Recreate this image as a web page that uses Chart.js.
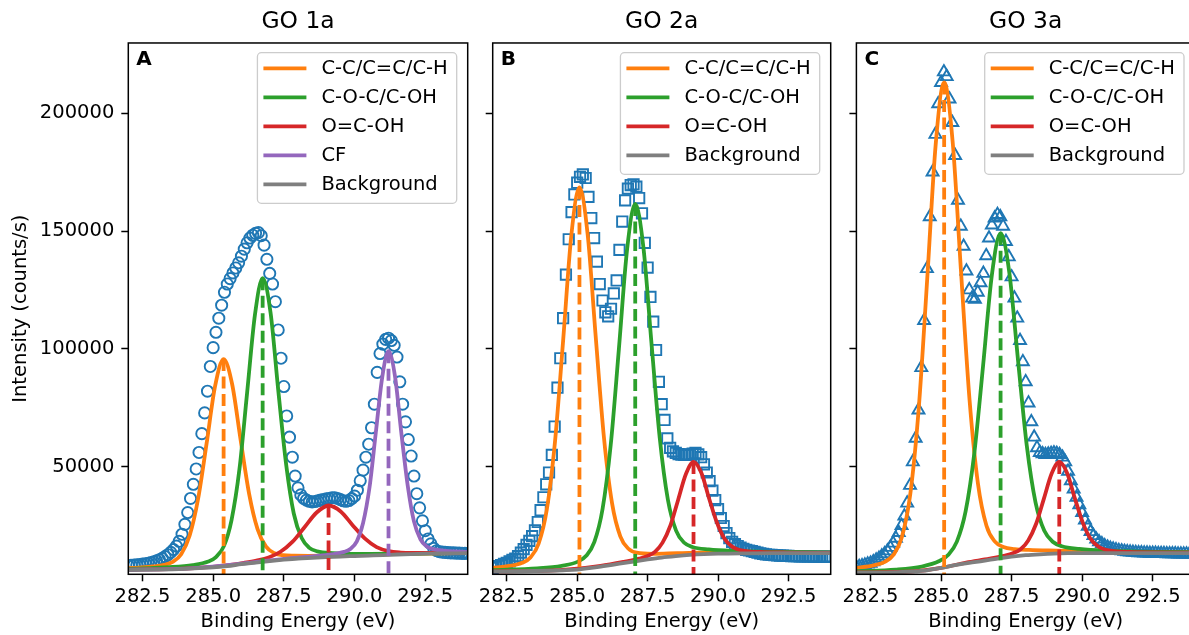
<!DOCTYPE html>
<html>
<head>
<meta charset="utf-8">
<title>C 1s fits GO 1a / 2a / 3a</title>
<script src="https://cdn.jsdelivr.net/npm/chart.js@4.4.1/dist/chart.umd.min.js"></script>
<style>
  html, body { margin: 0; padding: 0; background: #fff; overflow: hidden; width: 1189px; height: 635px; }
  canvas { position: absolute; top: 0; }
  #chartA { left: 0; }
  #chartB { left: 470px; }
  #chartC { left: 835px; }
</style>
</head>
<body>
<canvas id="chartA" width="480" height="635"></canvas>
<canvas id="chartB" width="375" height="635"></canvas>
<canvas id="chartC" width="375" height="635"></canvas>
<script>
// Binding energy grid of the measured points (eV)
const energy = [
  282.0, 282.1, 282.2, 282.3, 282.4, 282.5, 282.6, 282.7, 282.8, 282.9,
  283.0, 283.1, 283.2, 283.3, 283.4, 283.5, 283.6, 283.7, 283.8, 283.9,
  284.0, 284.1, 284.2, 284.3, 284.4, 284.5, 284.6, 284.7, 284.8, 284.9,
  285.0, 285.1, 285.2, 285.3, 285.4, 285.5, 285.6, 285.7, 285.8, 285.9,
  286.0, 286.1, 286.2, 286.3, 286.4, 286.5, 286.6, 286.7, 286.8, 286.9,
  287.0, 287.1, 287.2, 287.3, 287.4, 287.5, 287.6, 287.7, 287.8, 287.9,
  288.0, 288.1, 288.2, 288.3, 288.4, 288.5, 288.6, 288.7, 288.8, 288.9,
  289.0, 289.1, 289.2, 289.3, 289.4, 289.5, 289.6, 289.7, 289.8, 289.9,
  290.0, 290.1, 290.2, 290.3, 290.4, 290.5, 290.6, 290.7, 290.8, 290.9,
  291.0, 291.1, 291.2, 291.3, 291.4, 291.5, 291.6, 291.7, 291.8, 291.9,
  292.0, 292.1, 292.2, 292.3, 292.4, 292.5, 292.6, 292.7, 292.8, 292.9,
  293.0, 293.1, 293.2, 293.3, 293.4, 293.5, 293.6, 293.7, 293.8, 293.9,
  294.0
];

// Measured intensity (counts/s)
const countsA = [
  8000, 8100, 8200, 8300, 8400, 8600, 8800, 9000, 9300, 9600,
  10000, 10500, 11100, 11800, 12600, 13600, 14800, 16300, 18300, 21300,
  25500, 30500, 36500, 42500, 49000, 56000, 64000, 72800, 82000, 92500,
  100500, 107000, 113000, 118500, 124000, 127500, 129800, 132200, 134300, 136500,
  139300, 142300, 145000, 147000, 148200, 149000, 149300, 148000, 144000, 138000,
  132000, 127500, 120000, 108000, 96000, 84000, 71500, 62500, 54000, 46000,
  41000, 38000, 36500, 35800, 35300, 35000, 35200, 35500, 35800, 36000,
  36300, 36500, 36800, 36800, 36500, 36000, 35500, 35300, 35600, 36400,
  37500, 40000, 44000, 48500, 54000, 59500, 66500, 76500, 90000, 98000,
  102000, 104000, 104500, 103500, 101500, 96500, 86000, 76500, 69000, 61500,
  54500, 46000, 38500, 32500, 27000, 22800, 19300, 17200, 15300, 14300,
  13900, 13700, 13600, 13500, 13400, 13400, 13300, 13300, 13200, 13200,
  13200
];
const countsB = [
  7000, 7400, 7800, 8200, 8700, 9200, 9800, 10400, 11000, 12000,
  13500, 15000, 16800, 18500, 20500, 23000, 26500, 31500, 37000, 42500,
  47500, 55000, 67000, 83500, 96000, 113000, 131500, 146500, 158000, 165500,
  170500, 173000, 174000, 172500, 164500, 155500, 147000, 137000, 127500, 120500,
  115500, 113800, 117000, 123500, 129000, 142000, 154000, 163000, 168000, 169500,
  169800, 168800, 164000, 157500, 145000, 134500, 122000, 111500, 99500, 86000,
  76500, 69800, 62000, 58000, 56500, 55800, 55300, 55100, 55000, 55000,
  55200, 55500, 55800, 55200, 54000, 51000, 47500, 43800, 39800, 35800,
  32000, 28200, 24800, 21800, 19700, 18100, 17100, 16300, 15600, 15100,
  14700, 14400, 14100, 13800, 13500, 13200, 13000, 12800, 12600, 12500,
  12400, 12300, 12200, 12200, 12100, 12100, 12000, 12000, 12000, 11900,
  11900, 11900, 11900, 11900, 11800, 11800, 11800, 11800, 11800, 11800,
  11800
];
const countsC = [
  7300, 7600, 7900, 8200, 8600, 9000, 9600, 10300, 11100, 12000,
  13000, 14200, 15700, 17500, 19600, 22000, 25000, 29000, 34500, 42000,
  52000, 62000, 74000, 92000, 112000, 134000, 156000, 175000, 191000, 204000,
  213000, 217500, 215500, 206000, 196000, 182000, 163000, 152000, 143500, 133000,
  125000, 121500, 121000, 124000, 128000, 132000, 139500, 147000, 152500, 155500,
  157000, 156000, 152000, 145500, 139000, 130500, 121500, 113000, 103500, 94500,
  86000, 77000, 69000, 62500, 58000, 56000, 55400, 55100, 55300, 55600,
  55800, 55600, 55100, 54000, 52000, 48000, 44000, 40500, 37000, 33800,
  30500, 27300, 24600, 22400, 20700, 19200, 18100, 17200, 16400, 15800,
  15300, 15000, 14700, 14400, 14200, 14000, 13800, 13700, 13600, 13500,
  13400, 13400, 13300, 13300, 13200, 13200, 13200, 13100, 13100, 13100,
  13000, 13000, 13000, 13000, 12900, 12900, 12900, 12900, 12900, 12900,
  12900
];

// Fitted components (component + background), [eV, counts/s]
const ccFitA = [[282.0,6940],[282.37,7160],[282.87,7610],[283.27,8320],[283.57,9600],[283.87,12840],[284.17,20750],[284.47,36480],[284.77,59960],[285.07,84240],[285.37,95640],[285.67,85070],[285.97,61450],[286.27,38580],[286.57,23480],[286.87,16020],[287.17,13230],[287.47,12400],[287.87,12190],[288.37,12140],[289.37,12320],[291.37,12870],[294.0,13370]];
const cocFitA = [[282.0,6640],[283.45,7330],[284.28,8240],[284.83,9760],[285.1,11610],[285.38,16250],[285.65,27340],[285.93,48950],[286.2,81240],[286.48,114620],[286.75,130000],[287.03,115280],[287.3,82620],[287.58,51030],[287.85,30110],[288.13,19680],[288.4,15530],[288.68,14060],[289.23,13250],[290.05,12960],[294.0,13440]];
const coohFitA = [[282.0,6290],[283.98,6750],[285.26,7790],[286.11,9230],[286.53,10120],[286.96,11410],[287.38,13860],[287.81,18140],[288.23,24280],[288.66,30520],[289.08,33500],[289.51,30980],[289.93,25160],[290.36,19530],[290.78,15860],[291.21,14110],[291.63,13530],[292.06,13400],[292.91,13410],[294.0,13420]];
const cfFitA = [[282.0,6260],[284.0,6695],[286.0,8776],[287.5,10850],[288.5,11940],[289.18,12760],[289.63,13810],[289.85,15070],[290.08,18250],[290.3,26000],[290.53,41310],[290.75,64310],[290.98,88090],[291.2,99000],[291.43,88300],[291.65,64730],[291.88,41900],[292.1,26760],[292.33,19170],[292.55,16140],[292.78,15020],[293.23,14280],[294.0,13850]];
const bgA = [[282,6200],[283,6300],[284,6600],[284.5,6900],[285,7200],[285.5,7800],[286,8600],[286.5,9300],[287,9900],[287.5,10500],[288,11000],[288.5,11300],[289,11600],[289.5,11850],[290,12050],[290.5,12250],[291,12450],[291.5,12700],[292,12900],[292.5,13050],[293,13150],[294,13250]];

const ccFitB = [[282.0,7020],[282.47,7620],[283.05,9190],[283.34,11440],[283.63,17300],[283.92,31720],[284.21,60350],[284.5,103420],[284.79,148010],[285.08,168500],[285.37,148660],[285.66,104710],[285.95,62280],[286.24,34270],[286.53,20420],[286.82,15150],[287.11,13480],[287.69,12970],[288.56,13270],[290.0,13660],[294.0,13440]];
const cocFitB = [[282.0,6040],[283.58,6840],[284.45,7920],[285.03,9690],[285.32,12150],[285.61,18030],[285.9,31990],[286.19,59210],[286.48,99930],[286.77,142030],[287.06,161500],[287.35,143070],[287.64,101990],[287.93,62260],[288.22,35930],[288.51,22840],[288.8,17700],[289.09,15910],[289.67,14860],[290.54,14250],[294.0,13540]];
const coohFitB = [[282.0,5570],[284.0,5820],[285.83,7890],[286.66,9580],[287.21,10940],[287.48,11960],[287.76,13820],[288.03,17730],[288.31,25010],[288.58,35760],[288.86,46840],[289.13,52000],[289.41,47260],[289.68,36600],[289.96,26270],[290.23,19380],[290.51,15940],[290.78,14570],[291.06,14070],[291.61,13730],[292.43,13540],[294.0,13390]];
const bgB = [[282,5500],[283,5600],[284,5800],[284.5,6000],[285,6300],[285.5,7000],[286,7900],[286.5,8800],[287,9700],[287.5,10600],[288,11400],[288.5,12000],[289,12500],[289.5,12850],[290,13050],[291,13200],[292,13250],[294,13250]];

const ccFitC = [[282.0,7020],[282.61,8120],[283.01,9600],[283.31,12520],[283.61,20010],[283.91,38390],[284.21,74860],[284.51,129700],[284.81,186700],[285.11,213060],[285.41,188060],[285.71,132310],[286.01,78370],[286.31,42630],[286.61,24910],[286.91,18150],[287.21,15890],[287.61,15020],[288.11,14650],[289.11,14360],[291.11,13860],[294.0,13560]];
const cocFitC = [[282.0,5550],[283.39,6240],[284.32,7590],[284.94,9930],[285.25,12510],[285.56,18170],[285.87,31000],[286.18,55820],[286.49,92860],[286.8,131260],[287.11,149080],[287.42,132330],[287.73,94960],[288.04,58760],[288.35,34740],[288.66,22750],[288.97,17990],[289.28,16230],[289.9,15060],[290.83,14320],[294.0,13610]];
const coohFitC = [[282.0,5070],[284.0,5520],[285.0,7020],[285.89,9270],[286.72,10930],[287.27,12280],[287.54,13230],[287.82,14950],[288.09,18690],[288.37,25740],[288.64,36230],[288.92,47040],[289.19,52000],[289.47,47230],[289.74,36630],[290.02,26350],[290.29,19520],[290.57,16070],[290.84,14680],[291.12,14160],[291.67,13800],[292.49,13590],[294.0,13440]];
const bgC = [[282,5000],[283,5050],[284,5500],[284.5,6000],[285,7000],[285.5,8200],[286,9200],[286.5,10000],[287,11000],[287.5,11800],[288,12400],[288.5,12800],[289,13100],[289.5,13250],[290,13300],[294,13300]];

// Peak positions and heights (dashed markers)
const peaksA = [[285.37, 95640], [286.75, 130000], [289.08, 33500], [291.2, 99000]];
const peaksB = [[285.08, 168500], [287.06, 161500], [289.13, 52000]];
const peaksC = [[285.11, 213060], [287.11, 149080], [289.19, 52000]];

const componentLabels = ['C-C/C=C/C-H', 'C-O-C/C-OH', 'O=C-OH', 'CF'];
const panelTitles = ['GO 1a', 'GO 2a', 'GO 3a'];
const panelLetters = ['A', 'B', 'C'];
const xTicks = [282.5, 285.0, 287.5, 290.0, 292.5];
const yTicks = [50000, 100000, 150000, 200000];

const componentColors = ['#ff7f0e', '#2ca02c', '#d62728', '#9467bd'];
const dataColor = '#1f77b4';
const bgColor = '#7f7f7f';
const lineW = 3.8;

Chart.defaults.font.family = '"DejaVu Sans", sans-serif';
Chart.defaults.color = '#000';

const toXY = pts => pts.map(([x, y]) => ({ x: x, y: y }));

// Box around the axes, panel letter and the legend
const panelDecor = {
  id: 'panelDecor',
  afterDatasetsDraw(chart, args, opts) {
    const { ctx, chartArea: a } = chart;
    ctx.save();
    ctx.strokeStyle = '#000';
    ctx.lineWidth = 1.5;
    ctx.strokeRect(a.left, a.top, a.right - a.left, a.bottom - a.top);
    ctx.font = 'bold 20px "DejaVu Sans"';
    ctx.fillStyle = '#000';
    ctx.textBaseline = 'alphabetic';
    ctx.fillText(opts.letter, a.left + 8, a.top + 22);
    ctx.restore();
  },
  afterDraw(chart) {
    const { ctx, chartArea: a } = chart;
    const items = chart.data.datasets.filter(ds => ds.inLegend);
    ctx.save();
    ctx.font = '19.5px "DejaVu Sans"';
    const textW = Math.max(...items.map(it => ctx.measureText(it.label).width));
    const w = textW + 73, h = 29 * (items.length - 1) + 34.6;
    const x0 = a.right - 11 - w, y0 = a.top + 9.7, r = 4;
    ctx.beginPath();
    ctx.moveTo(x0 + r, y0);
    ctx.arcTo(x0 + w, y0, x0 + w, y0 + h, r);
    ctx.arcTo(x0 + w, y0 + h, x0, y0 + h, r);
    ctx.arcTo(x0, y0 + h, x0, y0, r);
    ctx.arcTo(x0, y0, x0 + w, y0, r);
    ctx.closePath();
    ctx.fillStyle = 'rgba(255,255,255,0.8)';
    ctx.fill();
    ctx.strokeStyle = '#cccccc';
    ctx.lineWidth = 1.3;
    ctx.stroke();
    items.forEach((it, i) => {
      const cy = y0 + 15.6 + 29 * i;
      ctx.beginPath();
      ctx.moveTo(x0 + 6, cy);
      ctx.lineTo(x0 + 49, cy);
      ctx.strokeStyle = it.borderColor;
      ctx.lineWidth = lineW;
      ctx.stroke();
      ctx.fillStyle = '#000';
      ctx.textBaseline = 'middle';
      ctx.fillText(it.label, x0 + 64, cy + 1);
    });
    ctx.restore();
  }
};

function makePanel(p) {
  const datasets = [];
  datasets.push({
    label: 'Data',
    data: energy.map((e, i) => ({ x: e, y: p.counts[i] })),
    showLine: false,
    pointStyle: p.marker,
    pointRadius: p.radius,
    pointBorderWidth: 1.9,
    pointBorderColor: dataColor,
    pointBackgroundColor: 'rgba(0,0,0,0)',
    borderColor: dataColor,
    backgroundColor: 'rgba(0,0,0,0)',
    order: 5
  });
  p.fits.forEach((fit, k) => {
    datasets.push({
      label: componentLabels[k],
      inLegend: true,
      data: toXY(fit),
      showLine: true,
      borderColor: componentColors[k],
      borderWidth: lineW,
      pointRadius: 0,
      cubicInterpolationMode: 'monotone',
      order: 4 - k * 0.1
    });
  });
  datasets.push({
    label: 'Background',
    inLegend: true,
    data: toXY(p.background),
    showLine: true,
    borderColor: bgColor,
    borderWidth: lineW,
    pointRadius: 0,
    cubicInterpolationMode: 'monotone',
    order: 2
  });
  p.peaks.forEach(([c, h], k) => {
    datasets.push({
      label: componentLabels[k] + ' centre',
      data: [{ x: c, y: h }, { x: c, y: 0 }],
      showLine: true,
      borderColor: componentColors[k],
      borderWidth: lineW,
      borderDash: [12, 5.5],
      pointRadius: 0,
      order: 1
    });
  });

  new Chart(document.getElementById(p.canvas), {
    type: 'scatter',
    data: { datasets: datasets },
    plugins: [panelDecor],
    options: {
      responsive: false,
      animation: false,
      devicePixelRatio: 1,
      layout: { padding: { left: 0, right: p.padRight, top: 0, bottom: 0 } },
      plugins: {
        legend: { display: false },
        tooltip: { enabled: false },
        title: {
          display: true, text: p.title, fullSize: false, color: '#000',
          font: { size: 23.4, weight: 'normal' },
          padding: { top: 8, bottom: 6.9 }
        },
        panelDecor: { letter: p.letter }
      },
      scales: {
        x: {
          type: 'linear', min: 282, max: 294,
          afterBuildTicks: s => { s.ticks = xTicks.map(v => ({ value: v })); },
          afterFit: s => { s.height = 60.7; },
          ticks: { callback: v => v.toFixed(1), color: '#000', font: { size: 19.5 }, padding: 4, maxRotation: 0, autoSkip: false },
          grid: { drawOnChartArea: false, drawTicks: true, tickLength: 7, tickWidth: 1.5, tickColor: '#000' },
          border: { display: false },
          title: { display: true, text: 'Binding Energy (eV)', color: '#000', font: { size: 19.5 }, padding: { top: 0, bottom: 1 } }
        },
        y: {
          type: 'linear', min: 4300, max: 229800,
          afterBuildTicks: s => { s.ticks = yTicks.map(v => ({ value: v })); },
          afterFit: s => { s.width = p.yWidth; },
          ticks: { display: p.yLabels, callback: v => String(v), color: '#000', font: { size: 19.5 }, padding: 7 },
          grid: { drawOnChartArea: false, drawTicks: true, tickLength: 7, tickWidth: 1.5, tickColor: '#000' },
          border: { display: false },
          title: { display: p.yLabels, text: 'Intensity (counts/s)', color: '#000', font: { size: 19.5 }, padding: { top: 9.3, bottom: 0 } }
        }
      }
    }
  });
}

makePanel({
  canvas: 'chartA', title: panelTitles[0], letter: panelLetters[0],
  counts: countsA, marker: 'circle', radius: 5.6,
  fits: [ccFitA, cocFitA, coohFitA, cfFitA], background: bgA, peaks: peaksA,
  yWidth: 128.3, padRight: 12.3, yLabels: true
});
makePanel({
  canvas: 'chartB', title: panelTitles[1], letter: panelLetters[1],
  counts: countsB, marker: 'rect', radius: 7.3,
  fits: [ccFitB, cocFitB, coohFitB], background: bgB, peaks: peaksB,
  yWidth: 22.7, padRight: 14.3, yLabels: false
});
makePanel({
  canvas: 'chartC', title: panelTitles[2], letter: panelLetters[2],
  counts: countsC, marker: 'triangle', radius: 6.9,
  fits: [ccFitC, cocFitC, coohFitC], background: bgC, peaks: peaksC,
  yWidth: 21.4, padRight: 15, yLabels: false
});
</script>
</body>
</html>
